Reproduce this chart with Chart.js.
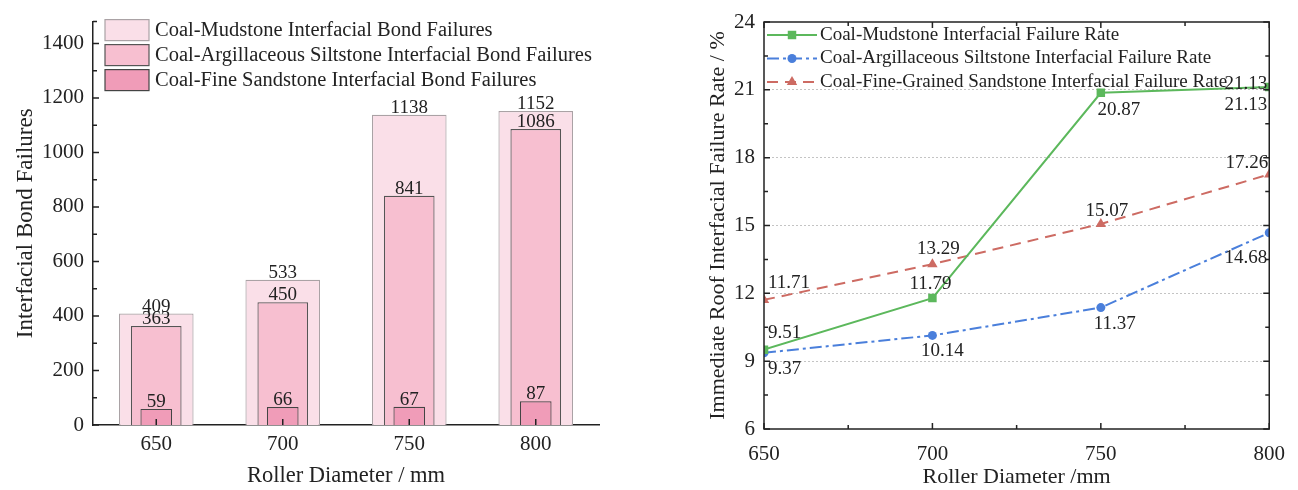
<!DOCTYPE html>
<html>
<head>
<meta charset="utf-8">
<script src="https://cdn.jsdelivr.net/npm/chart.js@4.4.1/dist/chart.umd.min.js"></script>
<style>
  body { margin: 0; background: #fff; width: 1298px; height: 490px; position: relative; overflow: hidden; }
  #barChart { position: absolute; left: 0; top: 0; }
  #lineChart { position: absolute; left: 650px; top: 0; }
</style>
</head>
<body>
<canvas id="barChart" width="640" height="490"></canvas>
<canvas id="lineChart" width="648" height="490"></canvas>
<script>
// bond failure counts per roller diameter
const diameters = ['650', '700', '750', '800'];
const mudstoneFailures = [409, 533, 1138, 1152];
const siltstoneFailures = [363, 450, 841, 1086];
const sandstoneFailures = [59, 66, 67, 87];
const failureTicks = [0, 200, 400, 600, 800, 1000, 1200, 1400];

// interfacial failure rate (%) per roller diameter
const rollerMm = [650, 700, 750, 800];
const mudstoneRate = [9.51, 11.79, 20.87, 21.13];
const siltstoneRate = [9.37, 10.14, 11.37, 14.68];
const sandstoneRate = [11.71, 13.29, 15.07, 17.26];

const SERIF = '"Liberation Serif", "Times New Roman", serif';
const INK = '#222';
Chart.defaults.font.family = SERIF;
Chart.defaults.color = INK;

// short tick marks pointing into the plot
const barTicks = {
  id: 'barTicks',
  afterDatasetsDraw(chart) {
    const { ctx, chartArea: a, scales: { x, y } } = chart;
    ctx.save();
    ctx.strokeStyle = INK;
    ctx.lineWidth = 1.5;
    ctx.beginPath();
    for (let v = 0; v <= y.max; v += 100) {
      const py = y.getPixelForValue(v);
      ctx.moveTo(a.left, py);
      ctx.lineTo(a.left + (v % 200 === 0 ? 6 : 4), py);
    }
    ctx.moveTo(a.left, a.top);
    ctx.lineTo(a.left + 4, a.top);
    diameters.forEach((d, i) => {
      const px = x.getPixelForValue(i);
      ctx.moveTo(px, a.bottom);
      ctx.lineTo(px, a.bottom - 6);
    });
    ctx.stroke();
    ctx.restore();
  }
};

const barLabels = {
  id: 'barLabels',
  afterDatasetsDraw(chart) {
    const { ctx } = chart;
    ctx.save();
    ctx.font = '19px ' + SERIF;
    ctx.fillStyle = INK;
    ctx.textAlign = 'center';
    ctx.textBaseline = 'alphabetic';
    chart.data.datasets.forEach((ds, di) => {
      chart.getDatasetMeta(di).data.forEach((bar, i) => {
        ctx.fillText(String(ds.data[i]), bar.x, bar.y - 2);
      });
    });
    ctx.restore();
  }
};

const boxLegend = {
  id: 'boxLegend',
  afterDraw(chart) {
    const { ctx, chartArea: a } = chart;
    ctx.save();
    ctx.font = '20.5px ' + SERIF;
    ctx.textBaseline = 'middle';
    chart.data.datasets.forEach((ds, i) => {
      const top = a.top - 2 + i * 25;
      ctx.fillStyle = ds.backgroundColor;
      ctx.strokeStyle = ds.borderColor;
      ctx.lineWidth = 1.2;
      ctx.fillRect(a.left + 12, top, 44, 21);
      ctx.strokeRect(a.left + 12, top, 44, 21);
      ctx.fillStyle = INK;
      ctx.fillText(ds.label, a.left + 62, top + 11);
    });
    ctx.restore();
  }
};

new Chart(document.getElementById('barChart'), {
  type: 'bar',
  data: {
    labels: diameters,
    datasets: [
      {
        label: 'Coal-Mudstone Interfacial Bond Failures',
        data: mudstoneFailures,
        backgroundColor: '#fadfe8',
        borderColor: '#aaa2a5',
        barPercentage: 0.59,
        order: 3
      },
      {
        label: 'Coal-Argillaceous Siltstone Interfacial Bond Failures',
        data: siltstoneFailures,
        backgroundColor: '#f7bfd0',
        borderColor: '#555',
        barPercentage: 0.40,
        order: 2
      },
      {
        label: 'Coal-Fine Sandstone Interfacial Bond Failures',
        data: sandstoneFailures,
        backgroundColor: '#f09cb8',
        borderColor: '#444',
        barPercentage: 0.25,
        order: 1
      }
    ]
  },
  options: {
    responsive: false,
    animation: false,
    layout: { padding: { top: 20, right: 41, bottom: 0, left: 0 } },
    datasets: { bar: { grouped: false, categoryPercentage: 1, borderWidth: 1.2 } },
    plugins: { legend: { display: false }, tooltip: { enabled: false } },
    scales: {
      x: {
        grid: { display: false, drawTicks: false },
        border: { color: INK, width: 1.5 },
        ticks: { padding: 7, font: { size: 21 }, color: INK },
        title: { display: true, text: 'Roller Diameter / mm', font: { size: 22.5 }, padding: { bottom: 0 } },
        afterFit(s) { s.height = 65; }
      },
      y: {
        min: 0,
        max: 1480,
        grid: { display: false, drawTicks: false },
        border: { color: INK, width: 1.5 },
        ticks: { padding: 9, font: { size: 21 }, color: INK, callback: v => String(v) },
        afterBuildTicks(s) { s.ticks = failureTicks.map(v => ({ value: v })); },
        title: { display: true, text: 'Interfacial Bond Failures', font: { size: 23 }, padding: { top: 12 } },
        afterFit(s) { s.width = 93; }
      }
    }
  },
  plugins: [barTicks, barLabels, boxLegend]
});

// frame with inward ticks on all four sides
const frameTicks = {
  id: 'frameTicks',
  afterDraw(chart) {
    const { ctx, chartArea: a, scales: { x, y } } = chart;
    ctx.save();
    ctx.strokeStyle = INK;
    ctx.lineWidth = 1.5;
    ctx.strokeRect(a.left, a.top, a.right - a.left, a.bottom - a.top);
    ctx.beginPath();
    for (let v = y.min; v <= y.max; v += 1.5) {
      const py = y.getPixelForValue(v);
      const len = (v - y.min) % 3 === 0 ? 6 : 4;
      ctx.moveTo(a.left, py); ctx.lineTo(a.left + len, py);
      ctx.moveTo(a.right, py); ctx.lineTo(a.right - len, py);
    }
    for (let v = x.min; v <= x.max; v += 25) {
      const px = x.getPixelForValue(v);
      const len = v % 50 === 0 ? 6 : 4;
      ctx.moveTo(px, a.bottom); ctx.lineTo(px, a.bottom - len);
      ctx.moveTo(px, a.top); ctx.lineTo(px, a.top + len);
    }
    ctx.stroke();
    ctx.restore();
  }
};

function marker(ctx, style, x, y, r, color) {
  ctx.fillStyle = color;
  ctx.beginPath();
  if (style === 'rect') {
    const s = r * Math.SQRT1_2;
    ctx.rect(x - s, y - s, 2 * s, 2 * s);
  } else if (style === 'triangle') {
    ctx.moveTo(x, y - r);
    ctx.lineTo(x + r * 0.87, y + r * 0.5);
    ctx.lineTo(x - r * 0.87, y + r * 0.5);
    ctx.closePath();
  } else {
    ctx.arc(x, y, r, 0, Math.PI * 2);
  }
  ctx.fill();
}

const lineLegend = {
  id: 'lineLegend',
  afterDraw(chart) {
    const { ctx, chartArea: a } = chart;
    ctx.save();
    ctx.font = '19px ' + SERIF;
    ctx.textBaseline = 'middle';
    chart.data.datasets.forEach((ds, i) => {
      const yy = a.top + 13 + i * 23.5;
      ctx.strokeStyle = ds.borderColor;
      ctx.lineWidth = 2;
      ctx.setLineDash(ds.borderDash || []);
      ctx.beginPath();
      ctx.moveTo(a.left + 3, yy);
      ctx.lineTo(a.left + 53, yy);
      ctx.stroke();
      ctx.setLineDash([]);
      marker(ctx, ds.pointStyle, a.left + 28, yy, ds.pointRadius, ds.borderColor);
      ctx.fillStyle = INK;
      ctx.fillText(ds.label, a.left + 56, yy);
    });
    ctx.restore();
  }
};

// value labels next to each point: [dx, dy, align]
const labelPlacement = [
  [[4, -17, 'left'], [-2, -14, 'center'], [18, 17, 'center'], [-2, 18, 'right']],
  [[4, 16, 'left'], [10, 16, 'center'], [14, 16, 'center'], [-2, 25, 'right']],
  [[4, -17, 'left'], [6, -15, 'center'], [6, -13, 'center'], [-1, -11, 'right']]
];
const extraLabels = [[0, 3, -2, -3, 'right']];

const pointLabels = {
  id: 'pointLabels',
  afterDatasetsDraw(chart) {
    const { ctx } = chart;
    ctx.save();
    ctx.font = '19px ' + SERIF;
    ctx.fillStyle = INK;
    ctx.textBaseline = 'middle';
    const put = (di, i, dx, dy, align) => {
      const pt = chart.getDatasetMeta(di).data[i];
      ctx.textAlign = align;
      ctx.fillText(chart.data.datasets[di].data[i].y.toFixed(2), pt.x + dx, pt.y + dy);
    };
    labelPlacement.forEach((row, di) => row.forEach((p, i) => put(di, i, ...p)));
    extraLabels.forEach(e => put(...e));
    ctx.restore();
  }
};

const toXY = vals => vals.map((v, i) => ({ x: rollerMm[i], y: v }));

new Chart(document.getElementById('lineChart'), {
  type: 'line',
  data: {
    datasets: [
      {
        label: 'Coal-Mudstone Interfacial Failure Rate',
        data: toXY(mudstoneRate),
        borderColor: '#5cb85c',
        backgroundColor: '#5cb85c',
        pointStyle: 'rect',
        pointRadius: 6
      },
      {
        label: 'Coal-Argillaceous Siltstone Interfacial Failure Rate',
        data: toXY(siltstoneRate),
        borderColor: '#4a7fdb',
        backgroundColor: '#4a7fdb',
        borderDash: [12, 4, 3, 4],
        pointStyle: 'circle',
        pointRadius: 4.5
      },
      {
        label: 'Coal-Fine-Grained Sandstone Interfacial Failure Rate',
        data: toXY(sandstoneRate),
        borderColor: '#cd6b63',
        backgroundColor: '#cd6b63',
        borderDash: [11, 7],
        pointStyle: 'triangle',
        pointRadius: 6
      }
    ]
  },
  options: {
    responsive: false,
    animation: false,
    layout: { padding: { top: 22, right: 27, bottom: 0, left: 0 } },
    elements: {
      line: { borderWidth: 2, tension: 0 },
      point: { borderWidth: 0, hoverRadius: 0 }
    },
    plugins: { legend: { display: false }, tooltip: { enabled: false } },
    scales: {
      x: {
        type: 'linear',
        min: 650,
        max: 800,
        grid: { display: false, drawTicks: false },
        border: { display: false },
        ticks: { stepSize: 50, padding: 13, font: { size: 21 }, color: INK },
        title: { display: true, text: 'Roller Diameter /mm', font: { size: 22 }, padding: { bottom: 0 } },
        afterFit(s) { s.height = 61; }
      },
      y: {
        min: 6,
        max: 24,
        grid: {
          drawTicks: false,
          lineWidth: 1,
          color: c => (c.tick.value === 6 || c.tick.value === 24) ? 'transparent' : '#c4c4c4'
        },
        border: { display: false, dash: [2, 2] },
        ticks: { stepSize: 3, padding: 9, font: { size: 21 }, color: INK },
        title: { display: true, text: 'Immediate Roof Interfacial Failure Rate / %', font: { size: 22 }, padding: { top: 55 } },
        afterFit(s) { s.width = 114; }
      }
    }
  },
  plugins: [frameTicks, pointLabels, lineLegend]
});
</script>
</body>
</html>
